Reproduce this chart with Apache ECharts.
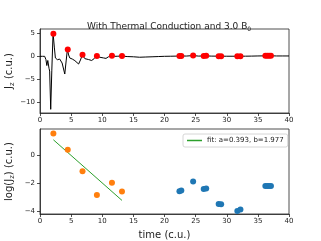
<!DOCTYPE html>
<html><head><meta charset="utf-8">
<script src="https://cdn.jsdelivr.net/npm/echarts@6/dist/echarts.min.js"></script>
<style>html,body{margin:0;padding:0;background:#fff}#c{width:321px;height:241px}</style>
</head><body><div id="c"></div>
<script>
// Black J_z curve
const curveT = [0, 0.4, 0.75, 0.95, 1.1, 1.25, 1.45, 1.55, 1.72, 1.9, 2.1, 2.3, 2.47, 2.8, 3.17, 3.55, 3.98, 4.2, 4.4, 4.6, 4.78, 5.2, 5.6, 6.2, 6.5, 6.8, 7.2, 7.8, 8.3, 8.7, 9.1, 9.6, 10.2, 10.6, 11.0, 11.5, 12.0, 12.5, 13.1, 14, 15, 16, 17, 18, 19, 20, 21, 22, 22.5, 23.5, 24.6, 25.5, 26.5, 27.5, 28.9, 30, 31, 32, 33, 34, 35, 36, 36.7, 37.5, 38, 39, 40];
const curveJ = [0, 0, 0, -0.7, -2.0, -0.9, -2.6, -3.2, -11.5, -3, 5.07, 2, -0.36, -0.73, -0.6, -1.45, -3.84, -1, 1.5, 0.3, -0.36, -0.6, -0.94, -1.67, -0.8, 0.33, -0.5, -0.7, -0.9, -0.5, 0.06, -0.2, -0.35, -0.45, -0.1, 0.15, 0, 0.02, 0.08, -0.05, -0.1, -0.2, -0.15, -0.1, -0.05, 0, 0.02, 0.05, 0.08, 0.06, 0.16, 0.05, 0.1, 0.05, 0.03, 0.02, 0.02, 0.02, 0.03, 0.05, 0.08, 0.1, 0.11, 0.1, 0.08, 0.08, 0.08];
// Peaks (red markers) - early (fitted) and late
const earlyT = [2.15, 4.46, 6.83, 9.14, 11.56, 13.17];
const earlyJ = [4.9, 1.5, 0.33, 0.06, 0.15, 0.08];
const earlyLog = [1.58, 0.41, -1.11, -2.81, -1.93, -2.57];
const lateT = [22.4, 22.7, 24.6, 26.3, 26.7, 28.7, 29.1, 31.7, 32.2, 36.2, 36.5, 36.8, 37.1];
const lateJ = [0.08, 0.08, 0.16, 0.09, 0.1, 0.03, 0.03, 0.02, 0.02, 0.11, 0.11, 0.11, 0.11];
const lateLog = [-2.55, -2.5, -1.85, -2.38, -2.35, -3.45, -3.47, -3.95, -3.85, -2.17, -2.17, -2.17, -2.17];
// Fit line endpoints
const fitT = [2.15, 13.17];
const fitY = [1.13, -3.2];
const fitLabel = 'fit: a=0.393, b=1.977';
const xTicks = [0, 5, 10, 15, 20, 25, 30, 35, 40];
const yTicksTop = [-10, -5, 0, 5];
const yTicksBot = [-4, -2, 0];

const zip = (a, b) => a.map((v, i) => [v, b[i]]);
const F = 'DejaVu Sans';
const fmt = v => String(v).replace('-', '\u2212');
const axisCommon = {
  axisLine: {show: true, onZero: false, lineStyle: {color: '#222', width: 0.8}},
  axisTick: {show: true, inside: false, length: 3, lineStyle: {color: '#222', width: 0.8}},
  splitLine: {show: false},
  axisLabel: {show: true, fontFamily: F, fontSize: 7, color: '#222', margin: 4, formatter: fmt, hideOverlap: false}
};
const xAx = (gi, name) => Object.assign({}, axisCommon, {
  type: 'value', gridIndex: gi, min: 0, max: 40, interval: 5,
  name: name || '', nameLocation: 'middle', nameGap: 16, nameMoveOverlap: false,
  nameTextStyle: {fontFamily: F, fontSize: 10, color: '#222'}
});
const yAx = (gi, min, max, ticks, name) => Object.assign({}, axisCommon, {
  type: 'value', gridIndex: gi, min: min, max: max,
  axisTick: Object.assign({}, axisCommon.axisTick, {customValues: ticks}),
  axisLabel: Object.assign({}, axisCommon.axisLabel, {margin: 5, customValues: ticks}),
  name: name, nameLocation: 'middle', nameRotate: 90, nameGap: 24, nameMoveOverlap: false,
  nameTextStyle: {fontFamily: F, fontSize: 10, color: '#222',
    rich: {n: {fontFamily: F, fontSize: 10, color: '#222'},
           s: {fontFamily: F, fontSize: 7, color: '#222', padding: [6, 0, 0, 0]}}}
});

const chart = echarts.init(document.getElementById('c'), null, {renderer: 'canvas'});
chart.setOption({
  animation: false,
  backgroundColor: '#fff',
  title: {
    text: 'With Thermal Conduction and 3.0 B{s|0}', left: 82, top: 16,
    textStyle: {fontFamily: F, fontSize: 9, fontWeight: 'normal', color: '#222',
      rich: {s: {fontFamily: F, fontSize: 6, color: '#222', padding: [5, 0, 0, 0]}}}
  },
  grid: [
    {left: 40, top: 29, width: 249, height: 84, show: true, borderColor: '#222', borderWidth: 0.8, backgroundColor: 'transparent', outerBoundsMode: 'none'},
    {left: 40, top: 129, width: 249, height: 85, show: true, borderColor: '#222', borderWidth: 0.8, backgroundColor: 'transparent', outerBoundsMode: 'none'}
  ],
  xAxis: [xAx(0), xAx(1, 'time (c.u.)')],
  yAxis: [
    yAx(0, -12.3, 5.93, yTicksTop, '{n|J}{s|z}{n| (c.u.)}'),
    yAx(1, -4.17, 1.9, yTicksBot, '{n|log(J}{s|z}{n|) (c.u.)}')
  ],
  legend: {
    data: [{name: fitLabel, icon: 'rect'}],
    left: 183, top: 134, itemWidth: 15, itemHeight: 1.5, itemGap: 4,
    padding: [3, 4, 3, 4], borderColor: '#ccc', borderWidth: 0.8, borderRadius: 2,
    backgroundColor: 'rgba(255,255,255,0.8)',
    textStyle: {fontFamily: F, fontSize: 7, color: '#222'}
  },
  series: [
    {type: 'line', xAxisIndex: 0, yAxisIndex: 0, data: zip(curveT, curveJ), showSymbol: false, symbol: 'none',
     lineStyle: {color: '#000', width: 1}, z: 2},
    {type: 'scatter', xAxisIndex: 0, yAxisIndex: 0, data: zip(earlyT.concat(lateT), earlyJ.concat(lateJ)),
     symbolSize: 6, itemStyle: {color: '#ff0000', opacity: 1}, z: 3},
    {type: 'scatter', xAxisIndex: 1, yAxisIndex: 1, data: zip(earlyT, earlyLog), symbolSize: 6,
     itemStyle: {color: '#ff7f0e', opacity: 1}, z: 3},
    {type: 'scatter', xAxisIndex: 1, yAxisIndex: 1, data: zip(lateT, lateLog), symbolSize: 6,
     itemStyle: {color: '#1f77b4', opacity: 1}, z: 3},
    {type: 'line', name: fitLabel, xAxisIndex: 1, yAxisIndex: 1, data: zip(fitT, fitY), showSymbol: false, symbol: 'none',
     lineStyle: {color: '#2ca02c', width: 1}, itemStyle: {color: '#2ca02c'}, z: 2}
  ]
});
</script></body></html>
